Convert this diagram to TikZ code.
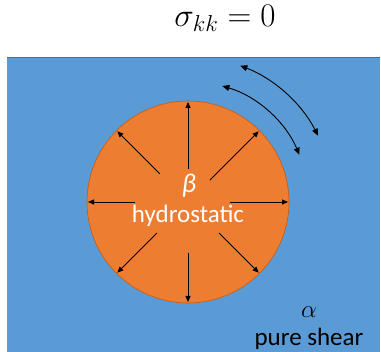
\RequirePackage{fix-cm}
\documentclass[tikz,border=0pt]{standalone}
\usepackage{fontspec}
\usepackage{amsmath}
\newfontfamily\labelfont{Carlito}
\usetikzlibrary{arrows.meta, calc}
\definecolor{matrixblue}{HTML}{5B9BD5}
\definecolor{matrixedge}{HTML}{41719C}
\definecolor{inclorange}{HTML}{ED7D31}
\definecolor{incledge}{HTML}{C55A11}

\begin{document}
\begin{tikzpicture}[
    x=1pt, y=-1pt,
    radial/.style={-{Triangle[length=6pt,width=5pt]}, line width=0.9pt, black},
    shear/.style={{Triangle[length=7pt,width=6pt]}-{Triangle[length=7pt,width=6pt]}, line width=0.9pt, black},
    lbl/.style={font=\labelfont\fontsize{25}{25}\selectfont}
]
\useasboundingbox (0,0) rectangle (381,352);

% matrix and inclusion
\fill[matrixblue] (7,58) rectangle (380,352);
\draw[matrixedge, line width=1pt] (7,58) -- (380,58);
\coordinate (c) at (188,202);
\filldraw[fill=inclorange, draw=incledge, line width=0.6pt] (c) circle[radius=101];

% radial arrows (hydrostatic), y axis points down so angles are negated
\foreach \a/\r in {90/33, 45/31, 0/42, -45/44, -90/51, -135/44, 180/53, 135/40}
    \draw[radial] ($(c)+(-\a:\r)$) -- ($(c)+(-\a:100)$);

% shear arrows
\draw[shear] ($(c)+(-69:146)$) arc[start angle=-69, end angle=-27, radius=146];
\draw[shear] ($(c)+(-73.5:121)$) arc[start angle=-73.5, end angle=-23, radius=121];

% labels
\node (sigma) at (225,18) {\fontsize{33}{33}\selectfont$\sigma_{kk}=0$};
\node[lbl, white] (beta) at (189,186) {\fontsize{27}{27}\selectfont\itshape β};
\node[lbl, white] (hydro) at (188,216) {hydrostatic};
\node (alpha) at (309,312) {\fontsize{25}{25}\selectfont$\alpha$};
\node[lbl] (shearlbl) at (309,339) {pure shear};
\end{tikzpicture}
\end{document}
